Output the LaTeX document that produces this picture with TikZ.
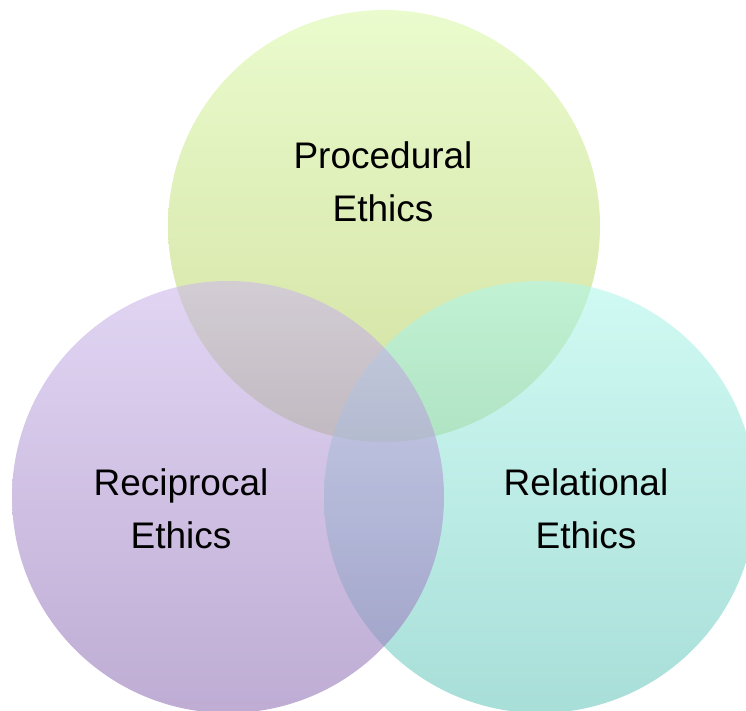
\documentclass[tikz,border=0pt]{standalone}
\usepackage{fontspec}
\setmainfont{Liberation Sans}
\definecolor{procTop}{RGB}{220,248,172}
\definecolor{procBot}{RGB}{180,205,97}
\definecolor{recTop}{RGB}{205,185,235}
\definecolor{recBot}{RGB}{147,117,183}
\definecolor{relTop}{RGB}{177,247,235}
\definecolor{relBot}{RGB}{110,200,190}

\begin{document}
\begin{tikzpicture}[x=1pt,y=-1pt,
ring/.style={circle,minimum size=432pt,inner sep=0pt,draw=none,fill opacity=0.6},
lbl/.style={align=center,font=\fontsize{37}{53}\selectfont}]
\useasboundingbox (0,0) rectangle (746,711);
% circles, back to front
\node[ring,top color=procTop,bottom color=procBot] (proc) at (384,226) {};
\node[ring,top color=relTop,bottom color=relBot] (rel) at (540,497) {};
\node[ring,top color=recTop,bottom color=recBot] (rec) at (228,497) {};
% labels
\node[lbl] (proc-t) at (383,182) {Procedural\\Ethics};
\node[lbl] (rec-t) at (181,509) {Reciprocal\\Ethics};
\node[lbl] (rel-t) at (586,509) {Relational\\Ethics};
\end{tikzpicture}
\end{document}
